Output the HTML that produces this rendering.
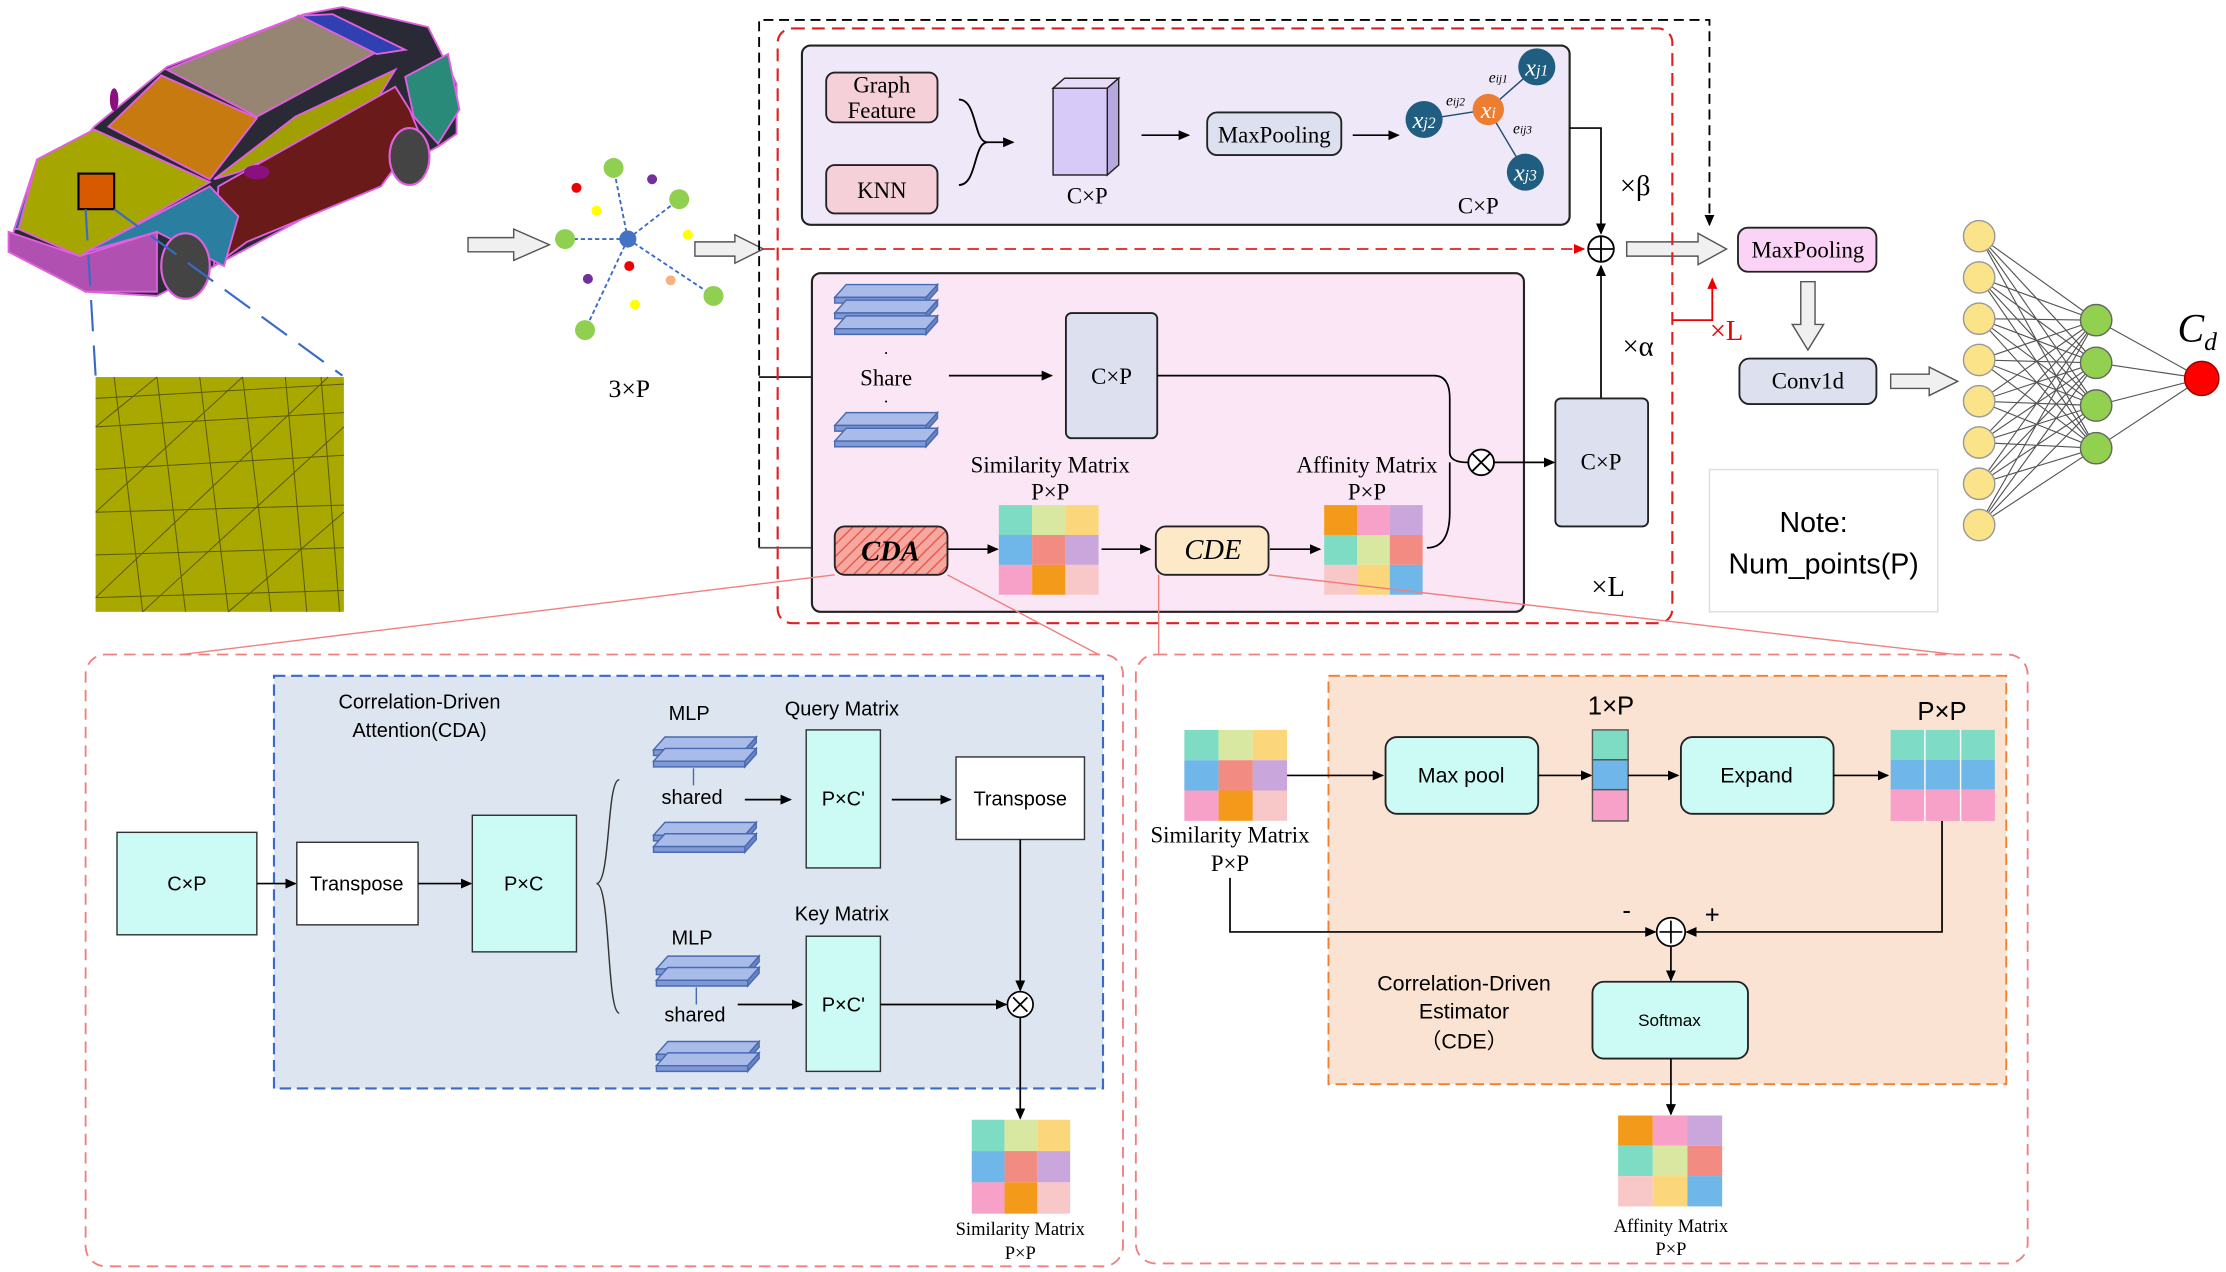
<!DOCTYPE html>
<html><head><meta charset="utf-8"><style>html,body{margin:0;padding:0;background:#fff}svg{display:block}</style></head><body>
<svg width="2226" height="1272" viewBox="0 0 1560 894" preserveAspectRatio="none" xmlns="http://www.w3.org/2000/svg">
<defs>
<marker id="a" markerWidth="8" markerHeight="8" refX="7" refY="4" orient="auto" markerUnits="userSpaceOnUse"><path d="M0,0.5 L8,4 L0,7.5z" fill="#000"/></marker>
<marker id="ar" markerWidth="8" markerHeight="8" refX="7" refY="4" orient="auto" markerUnits="userSpaceOnUse"><path d="M0,0.5 L8,4 L0,7.5z" fill="#e00"/></marker>
<marker id="ag" markerWidth="8" markerHeight="8" refX="7" refY="4" orient="auto" markerUnits="userSpaceOnUse"><path d="M0,0.5 L8,4 L0,7.5z" fill="#666"/></marker>
<pattern id="h" width="6" height="6" patternUnits="userSpaceOnUse" patternTransform="rotate(45)"><rect width="6" height="6" fill="#f6a8a0"/><line x1="0" y1="0" x2="0" y2="6" stroke="#e8584a" stroke-width="2"/></pattern>
<g id="stk"><path d="M0,9 L8,0 L72,0 L64,9z" fill="#a9bbe8" stroke="#4a6ab0" stroke-width="1"/><path d="M0,9 L64,9 L64,13 L0,13z" fill="#7f98d6" stroke="#4a6ab0" stroke-width="1"/><path d="M64,9 L72,0 L72,4 L64,13z" fill="#6a84c4" stroke="#4a6ab0" stroke-width="1"/></g>
<g id="simm"><rect x="0" y="0" width="1" height="1" fill="#7fdcc4"/><rect x="1" y="0" width="1" height="1" fill="#d9e8a0"/><rect x="2" y="0" width="1" height="1" fill="#fbd67a"/><rect x="0" y="1" width="1" height="1" fill="#6fb7e8"/><rect x="1" y="1" width="1" height="1" fill="#f28b82"/><rect x="2" y="1" width="1" height="1" fill="#c9a6dc"/><rect x="0" y="2" width="1" height="1" fill="#f7a0c8"/><rect x="1" y="2" width="1" height="1" fill="#f49a1a"/><rect x="2" y="2" width="1" height="1" fill="#f8c8c8"/></g>
<g id="affm"><rect x="0" y="0" width="1" height="1" fill="#f49a1a"/><rect x="1" y="0" width="1" height="1" fill="#f7a0c8"/><rect x="2" y="0" width="1" height="1" fill="#c9a6dc"/><rect x="0" y="1" width="1" height="1" fill="#7fdcc4"/><rect x="1" y="1" width="1" height="1" fill="#d9e8a0"/><rect x="2" y="1" width="1" height="1" fill="#f28b82"/><rect x="0" y="2" width="1" height="1" fill="#f8c8c8"/><rect x="1" y="2" width="1" height="1" fill="#fbd67a"/><rect x="2" y="2" width="1" height="1" fill="#6fb7e8"/></g>
</defs>
<!-- car -->
<g stroke="#e060e0" stroke-width="1.3">
<path d="M10,161 L66,89 L117,47 L213,10 L240,5 L300,19 L320,59 L320,94 L307,103 L150,187 L110,208 L60,205 L6,177z" fill="#2a2a36"/>
<path d="M117,49 L210,11 L267,35 L180,82z" fill="#958572"/>
<path d="M76,89 L113,53 L180,83 L147,126z" fill="#c67a10"/>
<path d="M13,161 L26,112 L66,91 L147,128 L56,180z" fill="#a6a600"/>
<path d="M150,126 L207,82 L277,49 L260,77 L167,121z" fill="#a0a000"/>
<path d="M153,131 L277,61 L287,77 L294,94 L267,131 L173,170 L150,187z" fill="#6b1a1a"/>
<path d="M60,177 L147,131 L167,152 L157,187 L110,163z" fill="#2a7fa0"/>
<path d="M6,163 L56,180 L110,163 L110,205 L60,205 L6,177z" fill="#b050b0"/>
<path d="M284,54 L314,38 L322,77 L307,101 L290,82z" fill="#2a8a7a"/>
<path d="M210,11 L233,10 L284,35 L264,38z" fill="#3040b0"/>
<path d="M10,161 L26,112 L13,161z" fill="#1f6f8a"/>
</g>
<ellipse cx="130" cy="187" rx="17" ry="23" fill="#444" stroke="#e060e0" stroke-width="1.5"/>
<ellipse cx="287" cy="110" rx="14" ry="20" fill="#444" stroke="#e060e0" stroke-width="1.5"/>
<ellipse cx="80" cy="70" rx="3" ry="8" fill="#8a1080"/><ellipse cx="180" cy="121" rx="9" ry="5" fill="#8a1080"/>
<rect x="55" y="122" width="25" height="25" fill="#d85a00" stroke="#000" stroke-width="1.5"/>
<line x1="60" y1="147" x2="67" y2="264" stroke="#3a6ac8" stroke-width="1.5" stroke-dasharray="22,10"/>
<line x1="80" y1="147" x2="240" y2="264" stroke="#3a6ac8" stroke-width="1.5" stroke-dasharray="22,10"/>
<rect x="67" y="265" width="174" height="165" fill="#a8a800"/>
<g stroke="#5a5a10" stroke-width="0.7" fill="none">
<path d="M67,280 L241,270 M67,300 L241,290 M67,330 L241,320 M67,360 L241,355 M67,390 L241,385 M67,420 L241,415 M80,265 L100,430 M110,265 L130,430 M140,265 L160,430 M170,265 L190,430 M200,265 L215,430 M225,265 L238,430 M67,300 L110,265 M67,360 L170,265 M67,420 L230,265 M100,430 L241,300 M160,430 L241,360"/>
</g>
<!-- hollow arrows -->
<path d="M328,167 L360,167 L360,161 L385,172 L360,183 L360,177 L328,177z" fill="#f0f0f0" stroke="#555"/>
<path d="M487,170 L515,170 L515,165 L535,175 L515,185 L515,180 L487,180z" fill="#f0f0f0" stroke="#555"/>
<path d="M1140,170 L1190,170 L1190,164 L1210,175 L1190,186 L1190,180 L1140,180z" fill="#f0f0f0" stroke="#555"/>
<path d="M1262,198 L1272,198 L1272,228 L1278,228 L1267,246 L1256,228 L1262,228z" fill="#f0f0f0" stroke="#555"/>
<path d="M1325,263 L1352,263 L1352,258 L1372,268 L1352,278 L1352,273 L1325,273z" fill="#f0f0f0" stroke="#555"/>
<!-- point cloud -->
<g stroke="#3a6ac8" stroke-width="1.3" stroke-dasharray="3,2">
<line x1="440" y1="168" x2="430" y2="118"/><line x1="440" y1="168" x2="476" y2="140"/><line x1="440" y1="168" x2="396" y2="168"/><line x1="440" y1="168" x2="500" y2="208"/><line x1="440" y1="168" x2="410" y2="232"/>
</g>
<circle cx="440" cy="168" r="6" fill="#4472c4"/>
<g fill="#8fd050"><circle cx="430" cy="118" r="7"/><circle cx="476" cy="140" r="7"/><circle cx="396" cy="168" r="7"/><circle cx="500" cy="208" r="7"/><circle cx="410" cy="232" r="7"/></g>
<circle cx="404" cy="132" r="3.5" fill="#e00"/><circle cx="457" cy="126" r="3.5" fill="#7030a0"/><circle cx="418" cy="148" r="3.5" fill="#ff0"/><circle cx="482" cy="165" r="3.5" fill="#ff0"/><circle cx="441" cy="187" r="3.5" fill="#e00"/><circle cx="412" cy="196" r="3.5" fill="#7030a0"/><circle cx="470" cy="197" r="3.5" fill="#f4b183"/><circle cx="445" cy="214" r="3.5" fill="#ff0"/>
<text x="441" y="279" font-family="Liberation Serif" font-size="18" text-anchor="middle">3×P</text>
<!-- dashed frames -->
<path d="M532,385 L532,14 L1198,14 L1198,158" fill="none" stroke="#000" stroke-width="1.3" stroke-dasharray="7,4" marker-end="url(#a)"/>
<line x1="532" y1="265" x2="590" y2="265" stroke="#000" stroke-width="1.2" marker-end="url(#a)"/>
<line x1="532" y1="385" x2="582" y2="385" stroke="#555" stroke-width="1.2" marker-end="url(#ag)"/>
<rect x="545" y="20" width="627" height="418" rx="10" fill="none" stroke="#e02020" stroke-width="1.5" stroke-dasharray="9,5"/>
<rect x="562" y="32" width="538" height="126" rx="6" fill="#efe8f8" stroke="#222" stroke-width="1.5"/>
<rect x="569" y="192" width="499" height="238" rx="6" fill="#fbe6f5" stroke="#222" stroke-width="1.5"/>
<line x1="535" y1="175" x2="1110" y2="175" stroke="#e02020" stroke-width="1.3" stroke-dasharray="8,5" marker-end="url(#ar)"/>
<!-- top box -->
<g font-family="Liberation Serif" font-size="16" text-anchor="middle">
<rect x="579" y="51" width="78" height="35" rx="6" fill="#f5d0d8" stroke="#222" stroke-width="1.3"/>
<text x="618" y="65">Graph</text><text x="618" y="83">Feature</text>
<rect x="579" y="116" width="78" height="34" rx="6" fill="#f5d0d8" stroke="#222" stroke-width="1.3"/>
<text x="618" y="139">KNN</text>
<path d="M672,70 C685,70 682,100 692,100 C682,100 685,130 672,130" fill="none" stroke="#000" stroke-width="1.3"/>
<line x1="692" y1="100" x2="710" y2="100" stroke="#000" stroke-width="1.2" marker-end="url(#a)"/>
<path d="M738,62 L746,55 L784,55 L776,62z" fill="#e8dcfa" stroke="#222"/><path d="M776,62 L784,55 L784,116 L776,123z" fill="#b8a8e0" stroke="#222"/><rect x="738" y="62" width="38" height="61" fill="#d8caf8" stroke="#222"/>
<text x="762" y="143">C×P</text>
<line x1="800" y1="95" x2="833" y2="95" stroke="#000" stroke-width="1.2" marker-end="url(#a)"/>
<rect x="846" y="79" width="94" height="30" rx="7" fill="#dde0ee" stroke="#222" stroke-width="1.3"/>
<text x="893" y="100">MaxPooling</text>
<line x1="948" y1="95" x2="980" y2="95" stroke="#000" stroke-width="1.2" marker-end="url(#a)"/>
<g stroke="#1f4e79" stroke-width="1"><line x1="1043" y1="77" x2="1077" y2="47"/><line x1="1043" y1="77" x2="998" y2="84"/><line x1="1043" y1="77" x2="1069" y2="121"/></g>
<circle cx="1043" cy="77" r="11" fill="#ed7d31"/><circle cx="1077" cy="47" r="13" fill="#1f5e80"/><circle cx="998" cy="84" r="13" fill="#1f5e80"/><circle cx="1069" cy="121" r="13" fill="#1f5e80"/>
<g font-style="italic" fill="#fff" font-size="17"><text x="1043" y="83">x<tspan font-size="11">i</tspan></text><text x="1077" y="53">x<tspan font-size="11">j1</tspan></text><text x="998" y="90">x<tspan font-size="11">j2</tspan></text><text x="1069" y="127">x<tspan font-size="11">j3</tspan></text></g>
<g font-style="italic" font-size="11"><text x="1050" y="58">e<tspan font-size="8">ij1</tspan></text><text x="1020" y="74">e<tspan font-size="8">ij2</tspan></text><text x="1067" y="94">e<tspan font-size="8">ij3</tspan></text></g>
<text x="1036" y="150">C×P</text>
</g>
<polyline points="1100,90 1122,90 1122,164" fill="none" stroke="#000" stroke-width="1.2" marker-end="url(#a)"/>
<circle cx="1122" cy="175" r="9" fill="#fff" stroke="#000" stroke-width="1.3"/><path d="M1113,175 H1131 M1122,166 V184" stroke="#000" stroke-width="1.3"/>
<text x="1146" y="137" font-family="Liberation Serif" font-size="20" text-anchor="middle">×β</text>
<text x="1148" y="250" font-family="Liberation Serif" font-size="20" text-anchor="middle">×α</text>
<line x1="1122" y1="280" x2="1122" y2="187" stroke="#000" stroke-width="1.2" marker-end="url(#a)"/>
<polyline points="1172,225 1200,225 1200,196" fill="none" stroke="#e00" stroke-width="1.3" marker-end="url(#ar)"/>
<text x="1210" y="239" font-family="Liberation Serif" font-size="20" fill="#e00" text-anchor="middle">×L</text>
<text x="1127" y="419" font-family="Liberation Serif" font-size="20" text-anchor="middle">×L</text>
<!-- lower pink -->
<use href="#stk" x="585" y="200"/><use href="#stk" x="585" y="211"/><use href="#stk" x="585" y="222"/>
<use href="#stk" x="585" y="290"/><use href="#stk" x="585" y="301"/>
<text x="621" y="271" font-family="Liberation Serif" font-size="16" text-anchor="middle">Share</text>
<text x="621" y="252" font-family="Liberation Serif" font-size="12" text-anchor="middle">·</text><text x="621" y="286" font-family="Liberation Serif" font-size="12" text-anchor="middle">·</text>
<line x1="665" y1="264" x2="737" y2="264" stroke="#000" stroke-width="1.2" marker-end="url(#a)"/>
<rect x="747" y="220" width="64" height="88" rx="4" fill="#dde0ee" stroke="#222" stroke-width="1.3"/>
<text x="779" y="270" font-family="Liberation Serif" font-size="16" text-anchor="middle">C×P</text>
<path d="M811,264 L1005,264 Q1016,264 1016,280 L1016,318 Q1016,325 1029,325" fill="none" stroke="#000" stroke-width="1.2"/>
<path d="M1000,385 Q1016,385 1016,360 L1016,325" fill="none" stroke="#000" stroke-width="1.2"/>
<circle cx="1038" cy="325" r="9" fill="#fff" stroke="#000" stroke-width="1.3"/><path d="M1032,319 L1044,331 M1044,319 L1032,331" stroke="#000" stroke-width="1.3"/>
<line x1="1047" y1="325" x2="1089" y2="325" stroke="#000" stroke-width="1.2" marker-end="url(#a)"/>
<rect x="1090" y="280" width="65" height="90" rx="4" fill="#dde0ee" stroke="#222" stroke-width="1.3"/>
<text x="1122" y="330" font-family="Liberation Serif" font-size="16" text-anchor="middle">C×P</text>
<rect x="585" y="370" width="79" height="34" rx="7" fill="url(#h)" stroke="#222" stroke-width="1.3"/>
<text x="624" y="394" font-family="Liberation Serif" font-size="20" font-weight="bold" font-style="italic" text-anchor="middle">CDA</text>
<line x1="664" y1="386" x2="699" y2="386" stroke="#000" stroke-width="1.2" marker-end="url(#a)"/>
<g transform="translate(700,355) scale(23.3,21)"><use href="#simm"/></g>
<line x1="772" y1="386" x2="806" y2="386" stroke="#000" stroke-width="1.2" marker-end="url(#a)"/>
<rect x="810" y="370" width="79" height="34" rx="7" fill="#fde8c8" stroke="#222" stroke-width="1.3"/>
<text x="850" y="393" font-family="Liberation Serif" font-size="20" font-style="italic" text-anchor="middle">CDE</text>
<line x1="890" y1="386" x2="925" y2="386" stroke="#000" stroke-width="1.2" marker-end="url(#a)"/>
<g transform="translate(928,355) scale(23,21)"><use href="#affm"/></g>
<g font-family="Liberation Serif" font-size="16" text-anchor="middle">
<text x="736" y="332">Similarity Matrix</text><text x="736" y="351">P×P</text>
<text x="958" y="332">Affinity Matrix</text><text x="958" y="351">P×P</text>
</g>
<!-- right -->
<rect x="1218" y="160" width="97" height="31" rx="7" fill="#fbd3f6" stroke="#222" stroke-width="1.3"/>
<text x="1267" y="181" font-family="Liberation Serif" font-size="16" text-anchor="middle">MaxPooling</text>
<rect x="1219" y="252" width="96" height="32" rx="7" fill="#dde0ee" stroke="#222" stroke-width="1.3"/>
<text x="1267" y="273" font-family="Liberation Serif" font-size="16" text-anchor="middle">Conv1d</text>
<g stroke="#555" stroke-width="0.8">
<path d="M1387,166 L1469,225 M1387,166 L1469,255 M1387,166 L1469,285 M1387,166 L1469,315 M1387,195 L1469,225 M1387,195 L1469,255 M1387,195 L1469,285 M1387,195 L1469,315 M1387,224 L1469,225 M1387,224 L1469,255 M1387,224 L1469,285 M1387,224 L1469,315 M1387,253 L1469,225 M1387,253 L1469,255 M1387,253 L1469,285 M1387,253 L1469,315 M1387,282 L1469,225 M1387,282 L1469,255 M1387,282 L1469,285 M1387,282 L1469,315 M1387,311 L1469,225 M1387,311 L1469,255 M1387,311 L1469,285 M1387,311 L1469,315 M1387,340 L1469,225 M1387,340 L1469,255 M1387,340 L1469,285 M1387,340 L1469,315 M1387,369 L1469,225 M1387,369 L1469,255 M1387,369 L1469,285 M1387,369 L1469,315 M1469,225 L1543,266 M1469,255 L1543,266 M1469,285 L1543,266 M1469,315 L1543,266"/>
</g>
<g fill="#fbe38a" stroke="#999"><circle cx="1387" cy="166" r="11"/><circle cx="1387" cy="195" r="11"/><circle cx="1387" cy="224" r="11"/><circle cx="1387" cy="253" r="11"/><circle cx="1387" cy="282" r="11"/><circle cx="1387" cy="311" r="11"/><circle cx="1387" cy="340" r="11"/><circle cx="1387" cy="369" r="11"/></g>
<g fill="#92d050" stroke="#666"><circle cx="1469" cy="225" r="11"/><circle cx="1469" cy="255" r="11"/><circle cx="1469" cy="285" r="11"/><circle cx="1469" cy="315" r="11"/></g>
<circle cx="1543" cy="266" r="12" fill="#f00" stroke="#900"/>
<text x="1526" y="240" font-family="Liberation Serif" font-size="28" font-style="italic">C<tspan font-size="18" dy="6">d</tspan></text>
<rect x="1198" y="330" width="160" height="100" fill="#fff" stroke="#ddd"/>
<text x="1271" y="374" font-family="Liberation Sans" font-size="20" text-anchor="middle">Note:</text>
<text x="1278" y="403" font-family="Liberation Sans" font-size="20" text-anchor="middle">Num_points(P)</text>
<!-- connectors to detail -->
<g stroke="#f08080" stroke-width="1"><line x1="585" y1="404" x2="62" y2="468"/><line x1="664" y1="404" x2="785" y2="468"/><line x1="812" y1="404" x2="812" y2="460"/><line x1="889" y1="404" x2="1370" y2="460"/></g>
<!-- bottom left -->
<rect x="60" y="460" width="727" height="430" rx="14" fill="#fff" stroke="#f08080" stroke-width="1.3" stroke-dasharray="8,5"/>
<rect x="192" y="475" width="581" height="290" fill="#dde5f0" stroke="#3a6ac8" stroke-width="1.5" stroke-dasharray="8,4"/>
<g font-family="Liberation Sans" font-size="14" text-anchor="middle">
<text x="294" y="498">Correlation-Driven</text><text x="294" y="518">Attention(CDA)</text>
<rect x="82" y="585" width="98" height="72" fill="#ccfaf5" stroke="#333"/><text x="131" y="626">C×P</text>
<line x1="180" y1="621" x2="207" y2="621" stroke="#000" stroke-width="1.2" marker-end="url(#a)"/>
<rect x="208" y="592" width="85" height="58" fill="#fff" stroke="#333"/><text x="250" y="626">Transpose</text>
<line x1="293" y1="621" x2="330" y2="621" stroke="#000" stroke-width="1.2" marker-end="url(#a)"/>
<rect x="331" y="573" width="73" height="96" fill="#ccfaf5" stroke="#333"/><text x="367" y="626">P×C</text>
<path d="M434,548 C425,548 428,621 418,621 C428,621 425,712 434,712" fill="none" stroke="#333" stroke-width="1"/>
<text x="483" y="506">MLP</text><text x="485" y="565">shared</text><text x="485" y="664">MLP</text><text x="487" y="718">shared</text>
<text x="590" y="503">Query Matrix</text><text x="590" y="647">Key Matrix</text>
<rect x="565" y="513" width="52" height="97" fill="#ccfaf5" stroke="#333"/><text x="591" y="566">P×C'</text>
<rect x="565" y="658" width="52" height="95" fill="#ccfaf5" stroke="#333"/><text x="591" y="711">P×C'</text>
<rect x="670" y="532" width="90" height="58" fill="#fff" stroke="#333"/><text x="715" y="566">Transpose</text>
<text x="715" y="868" font-family="Liberation Serif" font-size="13">Similarity Matrix</text><text x="715" y="885" font-family="Liberation Serif" font-size="13">P×P</text>
</g>
<use href="#stk" x="458" y="518"/><use href="#stk" x="458" y="526"/>
<use href="#stk" x="458" y="578"/><use href="#stk" x="458" y="586"/>
<use href="#stk" x="460" y="672"/><use href="#stk" x="460" y="680"/>
<use href="#stk" x="460" y="732"/><use href="#stk" x="460" y="740"/>
<line x1="486" y1="540" x2="486" y2="552" stroke="#4a6ab0"/><line x1="488" y1="694" x2="488" y2="706" stroke="#4a6ab0"/>
<line x1="522" y1="562" x2="554" y2="562" stroke="#000" stroke-width="1.2" marker-end="url(#a)"/>
<line x1="517" y1="706" x2="562" y2="706" stroke="#000" stroke-width="1.2" marker-end="url(#a)"/>
<line x1="625" y1="562" x2="666" y2="562" stroke="#000" stroke-width="1.2" marker-end="url(#a)"/>
<line x1="715" y1="590" x2="715" y2="696" stroke="#000" stroke-width="1.2" marker-end="url(#a)"/>
<line x1="617" y1="706" x2="705" y2="706" stroke="#000" stroke-width="1.2" marker-end="url(#a)"/>
<circle cx="715" cy="706" r="9" fill="#fff" stroke="#000" stroke-width="1.2"/><path d="M710,701 L720,711 M720,701 L710,711" stroke="#000" stroke-width="1.2"/>
<line x1="715" y1="715" x2="715" y2="786" stroke="#000" stroke-width="1.2" marker-end="url(#a)"/>
<g transform="translate(681,787) scale(23,22)"><use href="#simm"/></g>
<!-- bottom right -->
<rect x="796" y="460" width="625" height="428" rx="14" fill="#fff" stroke="#f08080" stroke-width="1.3" stroke-dasharray="8,5"/>
<rect x="931" y="475" width="475" height="287" fill="#fbe3d3" stroke="#f08030" stroke-width="1.3" stroke-dasharray="8,4"/>
<g transform="translate(830,513) scale(24,21.3)"><use href="#simm"/></g>
<g font-family="Liberation Sans" font-size="15" text-anchor="middle">
<text x="862" y="592" font-family="Liberation Serif" font-size="16">Similarity Matrix</text><text x="862" y="612" font-family="Liberation Serif" font-size="16">P×P</text>
<rect x="971" y="518" width="107" height="54" rx="8" fill="#ccfaf5" stroke="#222" stroke-width="1.3"/><text x="1024" y="550">Max pool</text>
<rect x="1178" y="518" width="107" height="54" rx="8" fill="#ccfaf5" stroke="#222" stroke-width="1.3"/><text x="1231" y="550">Expand</text>
<rect x="1116" y="690" width="109" height="54" rx="8" fill="#ccfaf5" stroke="#222" stroke-width="1.3"/><text x="1170" y="721" font-size="12">Softmax</text>
<text x="1129" y="502" font-size="18">1×P</text><text x="1361" y="506" font-size="18">P×P</text>
<text x="1026" y="696">Correlation-Driven</text><text x="1026" y="716">Estimator</text><text x="1026" y="737">（CDE）</text>
<text x="1140" y="646" font-size="18">-</text><text x="1200" y="649" font-size="18">+</text>
<text x="1171" y="866" font-family="Liberation Serif" font-size="13">Affinity Matrix</text><text x="1171" y="882" font-family="Liberation Serif" font-size="13">P×P</text>
</g>
<line x1="902" y1="545" x2="969" y2="545" stroke="#000" stroke-width="1.2" marker-end="url(#a)"/>
<line x1="1078" y1="545" x2="1115" y2="545" stroke="#000" stroke-width="1.2" marker-end="url(#a)"/>
<rect x="1116" y="513" width="25" height="21" fill="#7fdcc4" stroke="#555"/><rect x="1116" y="534" width="25" height="21" fill="#6fb7e8" stroke="#555"/><rect x="1116" y="555" width="25" height="22" fill="#f7a0c8" stroke="#555"/>
<line x1="1141" y1="545" x2="1176" y2="545" stroke="#000" stroke-width="1.2" marker-end="url(#a)"/>
<line x1="1285" y1="545" x2="1323" y2="545" stroke="#000" stroke-width="1.2" marker-end="url(#a)"/>
<rect x="1325" y="513" width="24" height="21" fill="#7fdcc4"/><rect x="1349" y="513" width="25" height="21" fill="#7fdcc4"/><rect x="1374" y="513" width="24" height="21" fill="#7fdcc4"/>
<rect x="1325" y="534" width="24" height="21" fill="#6fb7e8"/><rect x="1349" y="534" width="25" height="21" fill="#6fb7e8"/><rect x="1374" y="534" width="24" height="21" fill="#6fb7e8"/>
<rect x="1325" y="555" width="24" height="22" fill="#f7a0c8"/><rect x="1349" y="555" width="25" height="22" fill="#f7a0c8"/><rect x="1374" y="555" width="24" height="22" fill="#f7a0c8"/>
<g stroke="#fff" stroke-width="1"><line x1="1349" y1="513" x2="1349" y2="577"/><line x1="1374" y1="513" x2="1374" y2="577"/></g>
<polyline points="1361,577 1361,655 1182,655" fill="none" stroke="#000" stroke-width="1.2" marker-end="url(#a)"/>
<polyline points="862,617 862,655 1160,655" fill="none" stroke="#000" stroke-width="1.2" marker-end="url(#a)"/>
<circle cx="1171" cy="655" r="10" fill="#fff" stroke="#000" stroke-width="1.2"/><path d="M1163,655 H1179 M1171,647 V663" stroke="#000" stroke-width="1.2"/>
<line x1="1171" y1="665" x2="1171" y2="689" stroke="#000" stroke-width="1.2" marker-end="url(#a)"/>
<line x1="1171" y1="744" x2="1171" y2="783" stroke="#000" stroke-width="1.2" marker-end="url(#a)"/>
<g transform="translate(1134,784) scale(24.3,21.3)"><use href="#affm"/></g>
</svg>
</body></html>
